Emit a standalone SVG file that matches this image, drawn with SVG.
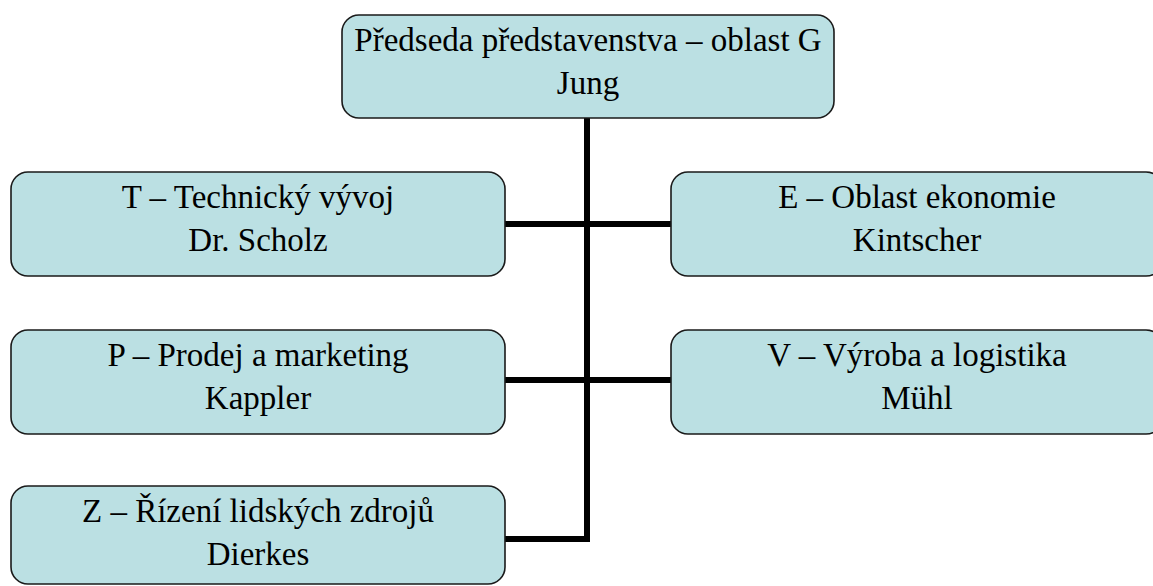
<svg xmlns="http://www.w3.org/2000/svg" width="1153" height="586" viewBox="0 0 1153 586">
  <style>
    .box { fill: #bbe0e3; stroke: #1a1a1a; stroke-width: 1.6; }
    .lbl { font-family: "Liberation Serif", "Times New Roman", serif; font-size: 33px; fill: #000; text-anchor: middle; }
    .conn { stroke: #000; stroke-width: 6; fill: none; stroke-linecap: butt; stroke-linejoin: miter; }
  </style>
  <rect width="1153" height="586" fill="#ffffff"/>

  <!-- connectors -->
  <g id="connectors">
    <path class="conn" d="M587,118 V539 H505"/>
    <path class="conn" d="M505,224 H671"/>
    <path class="conn" d="M505,380 H671"/>
  </g>

  <!-- board chairman -->
  <g id="node-G">
    <rect class="box" x="342" y="15" width="492" height="103" rx="17" ry="17"/>
    <text class="lbl" x="588" y="51">Předseda představenstva – oblast G</text>
    <text class="lbl" x="588" y="94">Jung</text>
  </g>

  <g id="node-T">
    <rect class="box" x="11" y="172" width="494" height="104" rx="17" ry="17"/>
    <text class="lbl" x="258" y="208">T – Technický vývoj</text>
    <text class="lbl" x="258" y="251">Dr. Scholz</text>
  </g>

  <g id="node-E">
    <rect class="box" x="671" y="172" width="492" height="104" rx="17" ry="17"/>
    <text class="lbl" x="917" y="208">E – Oblast ekonomie</text>
    <text class="lbl" x="917" y="251">Kintscher</text>
  </g>

  <g id="node-P">
    <rect class="box" x="11" y="330" width="494" height="104" rx="17" ry="17"/>
    <text class="lbl" x="258" y="366">P – Prodej a marketing</text>
    <text class="lbl" x="258" y="409">Kappler</text>
  </g>

  <g id="node-V">
    <rect class="box" x="671" y="330" width="492" height="104" rx="17" ry="17"/>
    <text class="lbl" x="917" y="366">V – Výroba a logistika</text>
    <text class="lbl" x="917" y="409">Mühl</text>
  </g>

  <g id="node-Z">
    <rect class="box" x="11" y="486" width="494" height="98" rx="17" ry="17"/>
    <text class="lbl" x="258" y="522">Z – Řízení lidských zdrojů</text>
    <text class="lbl" x="258" y="565">Dierkes</text>
  </g>
</svg>
